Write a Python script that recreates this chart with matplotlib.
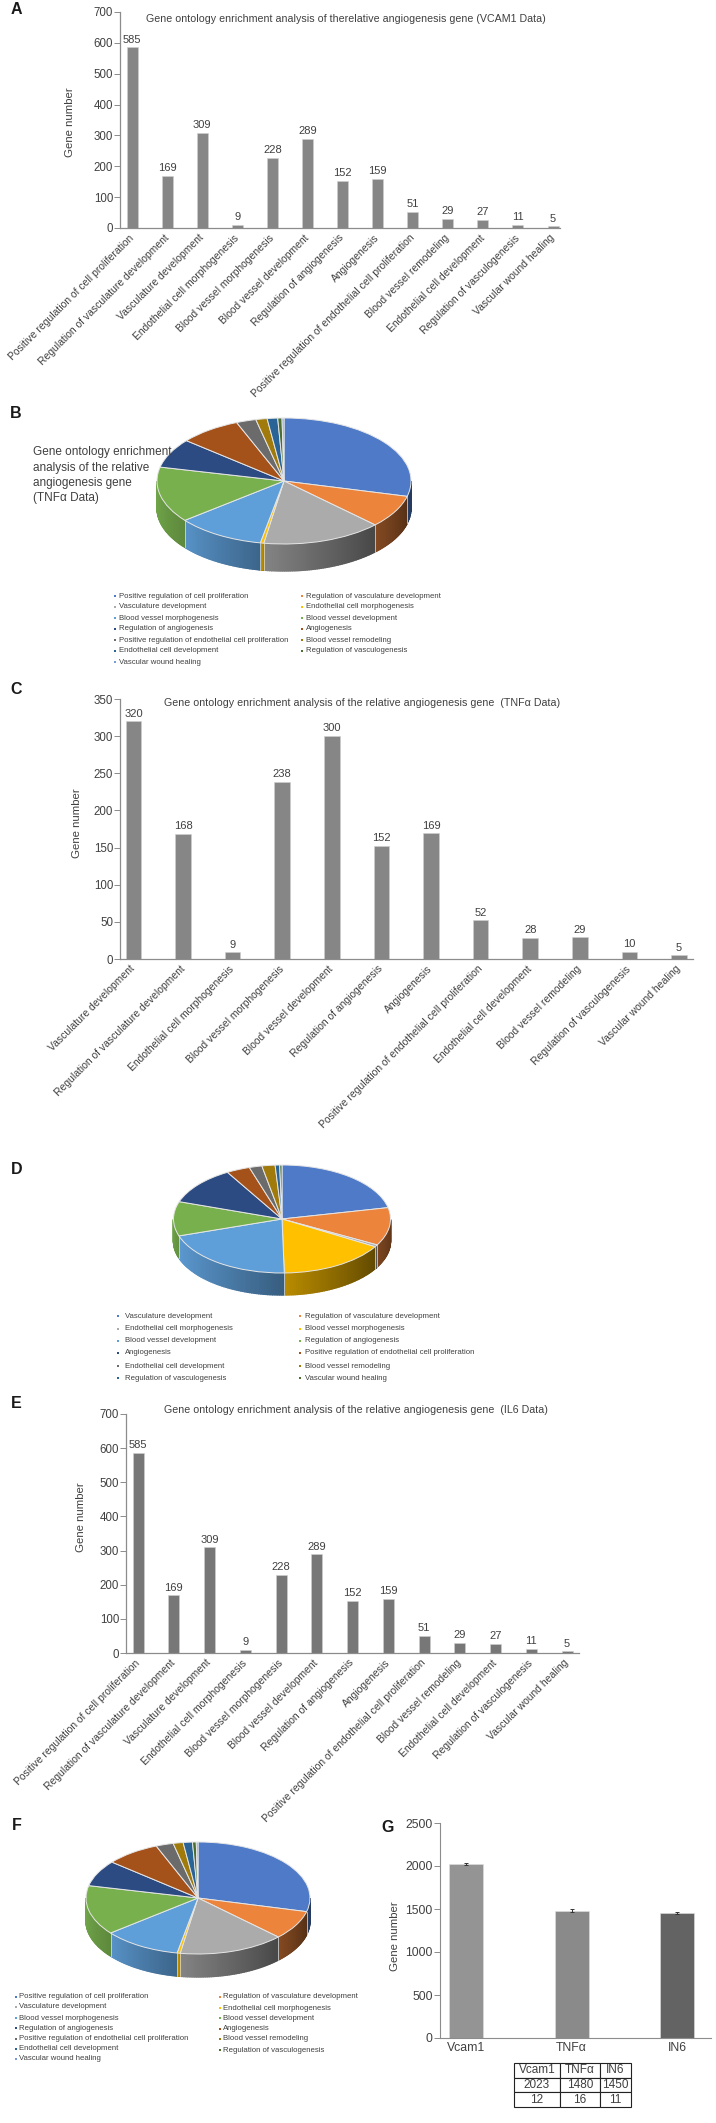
import numpy as np
import matplotlib
matplotlib.use('Agg')
import matplotlib.pyplot as plt

plt.rcParams['font.family'] = ['Liberation Sans', 'DejaVu Sans']

W, H = 716, 2123

# gene ontology terms, order of panels A / B / E / F
terms_a = ['Positive regulation of cell proliferation', 'Regulation of vasculature development',
           'Vasculature development', 'Endothelial cell morphogenesis', 'Blood vessel morphogenesis',
           'Blood vessel development', 'Regulation of angiogenesis', 'Angiogenesis',
           'Positive regulation of endothelial cell proliferation', 'Blood vessel remodeling',
           'Endothelial cell development', 'Regulation of vasculogenesis', 'Vascular wound healing']
vals_a = [585, 169, 309, 9, 228, 289, 152, 159, 51, 29, 27, 11, 5]

# panels C / D
terms_c = ['Vasculature development', 'Regulation of vasculature development',
           'Endothelial cell morphogenesis', 'Blood vessel morphogenesis', 'Blood vessel development',
           'Regulation of angiogenesis', 'Angiogenesis',
           'Positive regulation of endothelial cell proliferation', 'Endothelial cell development',
           'Blood vessel remodeling', 'Regulation of vasculogenesis', 'Vascular wound healing']
vals_c = [320, 168, 9, 238, 300, 152, 169, 52, 28, 29, 10, 5]

# panel G
groups_g = ['Vcam1', 'TNFα', 'IN6']
vals_g = [2023, 1480, 1450]
errs_g = [12, 16, 11]

pie_colors = ['#4E7AC7', '#EC843C', '#ABABAB', '#FFC000', '#5F9FD9', '#78B04E', '#2B4B82',
              '#A5511A', '#6B6B6B', '#A07A0A', '#2A6496', '#4A6F30', '#7A9AD8']

TXT = '#404040'
AXC = '#8c8c8c'

fig = plt.figure(figsize=(W / 100, H / 100), dpi=100)
pg = fig.add_axes([0, 0, 1, 1])
pg.set_xlim(0, W)
pg.set_ylim(H, 0)
pg.axis('off')
pg.set_zorder(10)


def px_axes(l, t, r, b):
    return fig.add_axes([l / W, 1 - b / H, (r - l) / W, (b - t) / H])


def bar_panel(terms, vals, top, bottom, left, right, c0, c1, bw, ymax, step, color, title, tx, ty, yl_x, yl_y):
    ax = px_axes(left, top, right, bottom)
    ax.patch.set_alpha(0)
    sp = (c1 - c0) / (len(vals) - 1)
    x = np.arange(len(vals))
    ax.bar(x, vals, width=bw / sp, color=color, edgecolor='#d0d0d0', linewidth=0.4)
    ax.set_xlim((left - c0) / sp, (right - c0) / sp)
    ax.set_ylim(0, ymax)
    for xi, v in zip(x, vals):
        ax.annotate(str(v), (xi, v), xytext=(0, 2), textcoords='offset points', ha='center', va='bottom',
                    fontsize=8, color=TXT)
    ax.set_yticks(np.arange(0, ymax + 1, step))
    ax.set_xticks(x)
    ax.set_xticklabels(terms, rotation=45, ha='right', rotation_mode='anchor', fontsize=7.5, color=TXT, va='center')
    ax.tick_params(axis='x', length=0, pad=6)
    ax.tick_params(axis='y', length=4, width=0.7, color=AXC, labelsize=8.3, labelcolor=TXT, pad=1)
    for s in ['top', 'right']:
        ax.spines[s].set_visible(False)
    for s in ['left', 'bottom']:
        ax.spines[s].set_color(AXC)
        ax.spines[s].set_linewidth(0.9)
    pg.text(tx, ty, title, ha='center', va='center', fontsize=7.7, color=TXT)
    pg.text(yl_x, yl_y, 'Gene number', rotation=90, ha='center', va='center', fontsize=8.2, color=TXT)
    return ax


def pie3d(vals, cx, cy, rx, ry, depth):
    ax = px_axes(cx - rx, cy - ry, cx + rx, cy + ry + depth)
    d = depth / ry
    fr = np.cumsum([0] + list(vals)) / sum(vals)
    angs = 90 - fr * 360
    # side wall of the disc, shaded in small pieces
    for i in range(len(vals)):
        th = np.linspace(angs[i], angs[i + 1], 60)
        for a, b, t in zip(th[:-1], th[1:], np.linspace(0, 1, 59)):
            if np.sin(np.radians((a + b) / 2)) >= 0:
                continue
            ra, rb = np.radians(a), np.radians(b)
            xs = [np.cos(ra), np.cos(rb), np.cos(rb), np.cos(ra)]
            ys = [np.sin(ra), np.sin(rb), np.sin(rb) - d, np.sin(ra) - d]
            mx = np.cos((ra + rb) / 2)
            # start of the slice is to the right going clockwise, so t runs right to left
            fac = 0.66 - 0.24 * mx + 0.14 * (t - 0.5)
            fac = np.clip(fac, 0.3, 1.0)
            rgb = np.array(matplotlib.colors.to_rgb(pie_colors[i])) * fac
            ax.fill(xs, ys, facecolor=rgb, edgecolor=rgb, lw=1.0, clip_on=False)
    for a in angs:
        r = np.radians(a)
        if np.sin(r) < 0:
            ax.plot([np.cos(r)] * 2, [np.sin(r), np.sin(r) - d], color='#e8e8e8', lw=0.5, clip_on=False)
    wedges, _ = ax.pie(vals, colors=pie_colors, startangle=90, counterclock=False, radius=1,
                       wedgeprops=dict(edgecolor='#e6e6e6', linewidth=0.7))
    for w in wedges:
        w.set_clip_on(False)
    ax.set_aspect('auto')
    ax.set_xlim(-1, 1)
    ax.set_ylim(-1 - d, 1)
    ax.axis('off')
    return ax


def pie_legend(names, x1, t1, ys1, x2, t2, ys2):
    for i, nm in enumerate(names):
        if i % 2 == 0:
            mx, tx, y = x1, t1, ys1[i // 2]
        else:
            mx, tx, y = x2, t2, ys2[i // 2]
        pg.scatter([mx], [y], marker='s', s=2.2, color=pie_colors[i], linewidths=0)
        pg.text(tx, y, nm, ha='left', va='center', fontsize=5.6, color=TXT)


# A
bar_panel(terms_a, vals_a, 12, 228, 120, 560, 132, 553, 11, 700, 100, '#868686',
          'Gene ontology enrichment analysis of therelative angiogenesis gene (VCAM1 Data)',
          346, 19, 70, 122)

# B
pie3d(vals_a, 284, 481, 127, 63, 27)
for i, ln in enumerate(['Gene ontology enrichment', 'analysis of the relative', 'angiogenesis gene', '(TNFα Data)']):
    pg.text(33, 452 + i * 15.5, ln, ha='left', va='center', fontsize=8.5, color=TXT)
pie_legend(terms_a, 115, 119, [596, 607, 618, 629, 640, 651, 662], 302, 306, [596, 607, 618, 629, 640, 651])

# C
bar_panel(terms_c, vals_c, 699, 959, 120, 693, 133.5, 679, 15.6, 350, 50, '#868686',
          'Gene ontology enrichment analysis of the relative angiogenesis gene  (TNFα Data)',
          362, 703, 77, 823)

# D
pie3d(vals_c, 282, 1219, 108.5, 54, 22)
ly = [1316, 1329, 1341, 1353, 1366, 1378]
pie_legend(terms_c, 118, 125, ly, 300, 305, ly)

# E
bar_panel(terms_a, vals_a, 1414, 1653, 126, 579, 138, 567, 11, 700, 100, '#777777',
          'Gene ontology enrichment analysis of the relative angiogenesis gene  (IL6 Data)',
          356, 1410, 81, 1517)

# F
pie3d(vals_a, 198, 1898, 112, 56, 23)
pie_legend(terms_a, 16, 19, [1997, 2007, 2018, 2028, 2039, 2049, 2059], 220, 223, [1997, 2008, 2018, 2029, 2039, 2050])

# G
axg = px_axes(439.5, 1823, 711, 2038)
axg.patch.set_alpha(0)
xg = np.arange(3)
spg = (677 - 466) / 2
axg.bar(xg, vals_g, width=34 / spg, color=['#949494', '#8A8A8A', '#636363'], edgecolor='#e0e0e0', linewidth=0.4,
        yerr=errs_g, error_kw=dict(ecolor='#333333', elinewidth=0.7, capsize=1.5, capthick=0.7))
axg.set_xlim((439.5 - 466) / spg, (711 - 466) / spg)
axg.set_ylim(0, 2500)
axg.set_yticks(np.arange(0, 2501, 500))
axg.set_xticks(xg)
axg.set_xticklabels(groups_g, fontsize=8.8, color=TXT)
axg.tick_params(axis='x', length=0, pad=3)
axg.tick_params(axis='y', length=4, width=0.7, color=AXC, labelsize=8.8, labelcolor=TXT, pad=1)
for s in ['top', 'right']:
    axg.spines[s].set_visible(False)
for s in ['left', 'bottom']:
    axg.spines[s].set_color(AXC)
pg.text(394.5, 1936, 'Gene number', rotation=90, ha='center', va='center', fontsize=8.2, color=TXT)

tb = pg.table(cellText=[groups_g, [str(v) for v in vals_g], [str(v) for v in errs_g]],
              cellLoc='center', colWidths=[46 / W, 40 / W, 31 / W],
              bbox=[514 / W, 1 - 2107 / H, 117 / W, 44 / H])
tb.auto_set_font_size(False)
for c in tb.get_celld().values():
    c.set_linewidth(0.8)
    c.set_edgecolor('#222222')
    c.get_text().set_fontsize(8.5)
    c.get_text().set_color(TXT)

# panel letters
for lab, x, y in [('A', 16, 9), ('B', 16, 413), ('C', 16, 689), ('D', 17, 1170), ('E', 16, 1404), ('F', 17, 1826), ('G', 388, 1827)]:
    pg.text(x, y, lab, ha='center', va='center', fontsize=11.5, fontweight='bold', color='#1a1a1a')

fig.savefig('out.png', dpi=100)
